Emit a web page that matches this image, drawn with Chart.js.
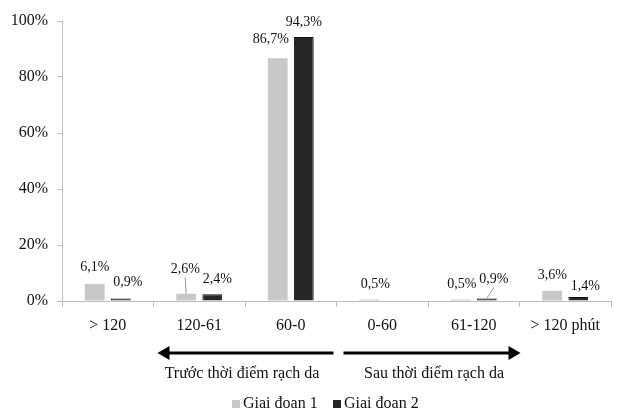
<!DOCTYPE html>
<html>
<head>
<meta charset="utf-8">
<script src="https://cdn.jsdelivr.net/npm/chart.js@4/dist/chart.umd.min.js"></script>
<style>
  html, body { margin: 0; padding: 0; background: #ffffff; }
  canvas { display: block; }
</style>
</head>
<body>
<canvas id="chart" width="620" height="412"></canvas>
<script>
// Time of prophylactic antibiotic dose relative to skin incision (minutes)
const categories = ['> 120', '120-61', '60-0', '0-60', '61-120', '> 120 phút'];
const seriesNames = ['Giai đoan 1', 'Giai đoan 2'];
const giaiDoan1 = [6.1, 2.6, 86.7, 0.5, 0.5, 3.6];
const giaiDoan2 = [0.9, 2.4, 94.3, 0, 0.9, 1.4];
const yTicks = [0, 20, 40, 60, 80, 100];
const groupCaptions = ['Trước thời điểm rạch da', 'Sau thời điểm rạch da'];

const SERIF = '"Liberation Serif", "Times New Roman", serif';
const TEXT = '#111111';
const AXIS = '#bdbdbd';

// Per-label nudges [dx, dy above bar top, leader line?]
const labelNudge = [
  [[0, 17], [-1, 24, true], [-7, 19], [6, 15], [1, 15], [0, 16]],
  [[7, 16], [5, 15], [0, 15], [0, 15], [7, 19, true], [7, 11]]
];

const fmt = v => v.toFixed(1).replace('.', ',') + '%';

const annotations = {
  id: 'annotations',
  afterDatasetsDraw(chart) {
    const ctx = chart.ctx;
    ctx.save();
    // value labels
    ctx.font = '14px ' + SERIF;
    ctx.fillStyle = TEXT;
    ctx.textAlign = 'center';
    ctx.textBaseline = 'middle';
    chart.data.datasets.forEach((ds, i) => {
      const meta = chart.getDatasetMeta(i);
      meta.data.forEach((bar, j) => {
        const v = ds.data[j];
        if (!v) return;
        const [dx, dy, leader] = labelNudge[i][j];
        const lx = bar.x + dx;
        const ly = bar.y - dy;
        if (leader) {
          ctx.strokeStyle = '#9a9a9a';
          ctx.lineWidth = 1;
          ctx.beginPath();
          ctx.moveTo(bar.x, bar.y);
          ctx.lineTo(lx, ly + 8);
          ctx.stroke();
        }
        ctx.fillText(fmt(v), lx, ly);
      });
    });
    ctx.restore();
  },
  afterDraw(chart) {
    const ctx = chart.ctx;
    const xs = chart.scales.x;
    const half = (xs.getPixelForValue(1) - xs.getPixelForValue(0)) / 2;
    const b1 = xs.getPixelForValue(1) - half;
    const b3 = xs.getPixelForValue(3) - half;
    const b5 = xs.getPixelForValue(5) - half;
    const ay = 353;
    ctx.save();
    ctx.fillStyle = '#000';
    ctx.strokeStyle = '#000';
    ctx.lineWidth = 3;
    // left arrow (before incision)
    ctx.beginPath();
    ctx.moveTo(b1 + 14, ay);
    ctx.lineTo(b3 - 3, ay);
    ctx.stroke();
    ctx.beginPath();
    ctx.moveTo(b1 + 4, ay);
    ctx.lineTo(b1 + 16, ay - 7);
    ctx.lineTo(b1 + 16, ay + 7);
    ctx.closePath();
    ctx.fill();
    // right arrow (after incision)
    ctx.beginPath();
    ctx.moveTo(b3 + 7, ay);
    ctx.lineTo(b5 - 10, ay);
    ctx.stroke();
    ctx.beginPath();
    ctx.moveTo(b5 + 1, ay);
    ctx.lineTo(b5 - 11, ay - 7);
    ctx.lineTo(b5 - 11, ay + 7);
    ctx.closePath();
    ctx.fill();
    // captions
    ctx.font = '16px ' + SERIF;
    ctx.fillStyle = TEXT;
    ctx.textAlign = 'center';
    ctx.textBaseline = 'middle';
    ctx.fillText(groupCaptions[0], (b1 + b3) / 2 - 3, 374);
    ctx.fillText(groupCaptions[1], (b3 + b5) / 2 + 6, 374);
    // legend
    const legendX = [232, 333];
    chart.data.datasets.forEach((ds, i) => {
      ctx.fillStyle = ds.backgroundColor;
      ctx.fillRect(legendX[i], 400, 8, 8);
      ctx.fillStyle = TEXT;
      ctx.textAlign = 'left';
      ctx.fillText(ds.label, legendX[i] + 11, 404);
    });
    ctx.restore();
  }
};

new Chart(document.getElementById('chart'), {
  type: 'bar',
  data: {
    labels: categories,
    datasets: [
      { label: seriesNames[0], data: giaiDoan1, backgroundColor: '#c8c8c8', borderWidth: 0 },
      { label: seriesNames[1], data: giaiDoan2, backgroundColor: '#2a2626', borderColor: '#111111', borderWidth: 1 }
    ]
  },
  options: {
    responsive: false,
    animation: false,
    devicePixelRatio: 1,
    layout: { padding: { top: 21, right: 9, left: 0, bottom: 0 } },
    datasets: { bar: { categoryPercentage: 0.57, barPercentage: 0.76 } },
    plugins: { legend: { display: false }, tooltip: { enabled: false } },
    scales: {
      x: {
        offset: true,
        grid: { offset: true, drawOnChartArea: false, tickLength: 6, color: AXIS },
        border: { color: AXIS },
        ticks: { color: TEXT, font: { family: SERIF, size: 16 }, padding: 9, maxRotation: 0, autoSkip: false },
        afterFit(s) { s.height = 111; }
      },
      y: {
        min: 0,
        max: 100,
        afterBuildTicks(s) { s.ticks = yTicks.map(v => ({ value: v })); },
        grid: { drawOnChartArea: false, tickLength: 5, color: AXIS },
        border: { color: AXIS },
        ticks: { color: TEXT, font: { family: SERIF, size: 16 }, padding: 9, callback: v => v + '%' },
        afterFit(s) { s.width = 62; }
      }
    }
  },
  plugins: [annotations]
});
</script>
</body>
</html>
